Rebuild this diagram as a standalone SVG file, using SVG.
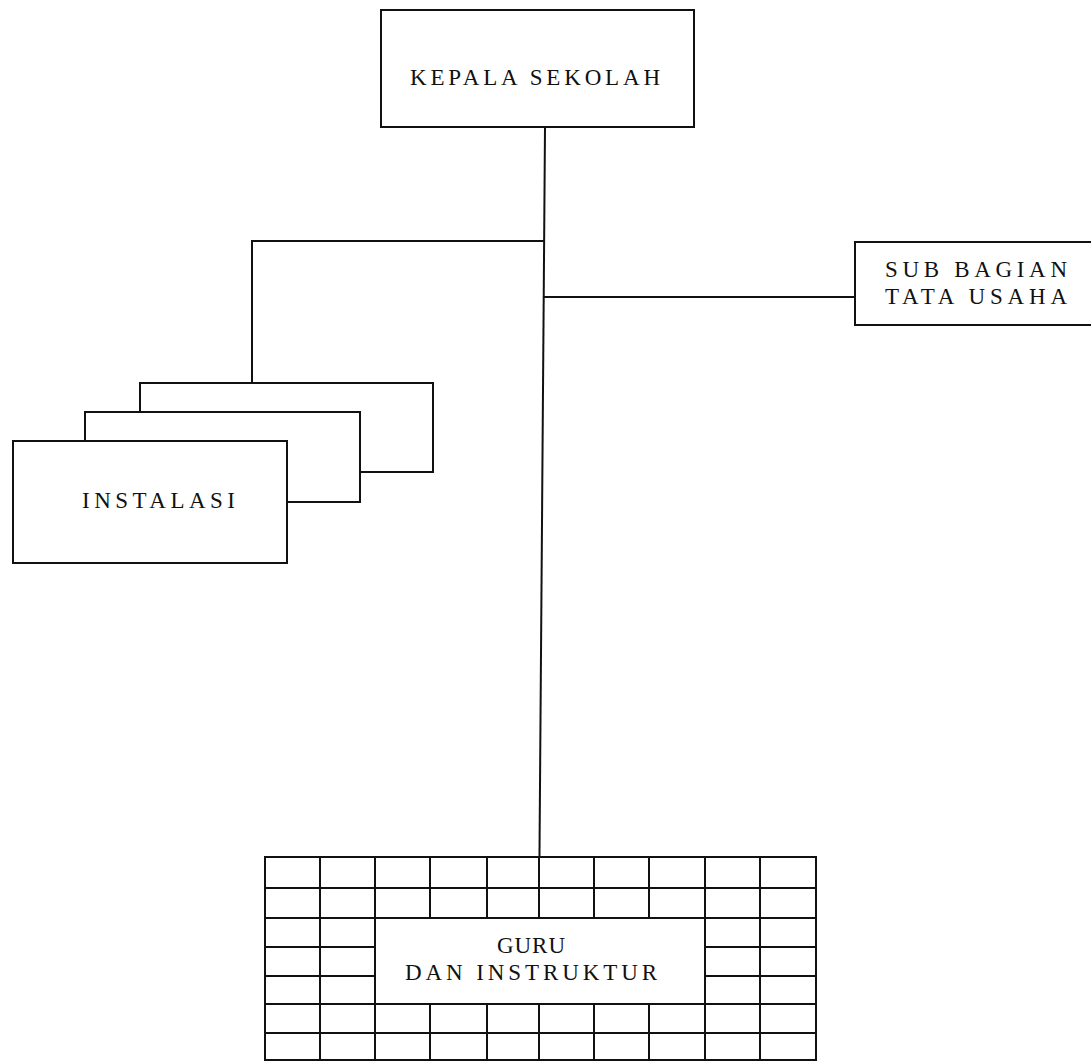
<svg xmlns="http://www.w3.org/2000/svg" width="1091" height="1061" viewBox="0 0 1091 1061">
<style>
.box{fill:#fff;stroke:#111;stroke-width:2}
.ln{fill:none;stroke:#111;stroke-width:2}
.t{font-family:"Liberation Serif","Times New Roman",serif;font-size:23px;fill:#111}
</style>
<rect width="1091" height="1061" fill="#fff"/>
<g id="connectors">
<path class="ln" d="M545 127 L539 918"/>
<path class="ln" d="M544 241 H252 V383"/>
<path class="ln" d="M544 297 H855"/>
</g>
<g id="kepala-sekolah">
<rect class="box" x="381" y="10" width="313" height="117"/>
<text class="t" x="410" y="85" textLength="250" lengthAdjust="spacing">KEPALA SEKOLAH</text>
</g>
<g id="sub-bagian-tata-usaha">
<rect class="box" x="855" y="242" width="250" height="83"/>
<text class="t" x="885" y="277" textLength="182" lengthAdjust="spacing">SUB BAGIAN</text>
<text class="t" x="885" y="304" textLength="182" lengthAdjust="spacing">TATA USAHA</text>
</g>
<g id="instalasi">
<rect class="box" x="140" y="383" width="293" height="89"/>
<rect class="box" x="85" y="412" width="275" height="90"/>
<rect class="box" x="13" y="441" width="274" height="122"/>
<text class="t" x="82" y="508" textLength="153" lengthAdjust="spacing">INSTALASI</text>
</g>
<g id="guru-dan-instruktur">
<rect class="box" x="265" y="857" width="551" height="203"/>
<path class="ln" d="M320 857 V1060 M375 857 V1060 M705 857 V1060 M760 857 V1060
M430 857 V918 M487 857 V918 M539 857 V918 M594 857 V918 M649 857 V918
M430 1004 V1060 M487 1004 V1060 M539 1004 V1060 M594 1004 V1060 M649 1004 V1060
M265 888 H816 M265 918 H816 M265 1004 H816 M265 1033 H816
M265 947 H375 M265 976 H375 M705 947 H816 M705 976 H816"/>
<text class="t" x="497" y="953" textLength="68" lengthAdjust="spacing">GURU</text>
<text class="t" x="405" y="980" textLength="252" lengthAdjust="spacing">DAN INSTRUKTUR</text>
</g>
</svg>
